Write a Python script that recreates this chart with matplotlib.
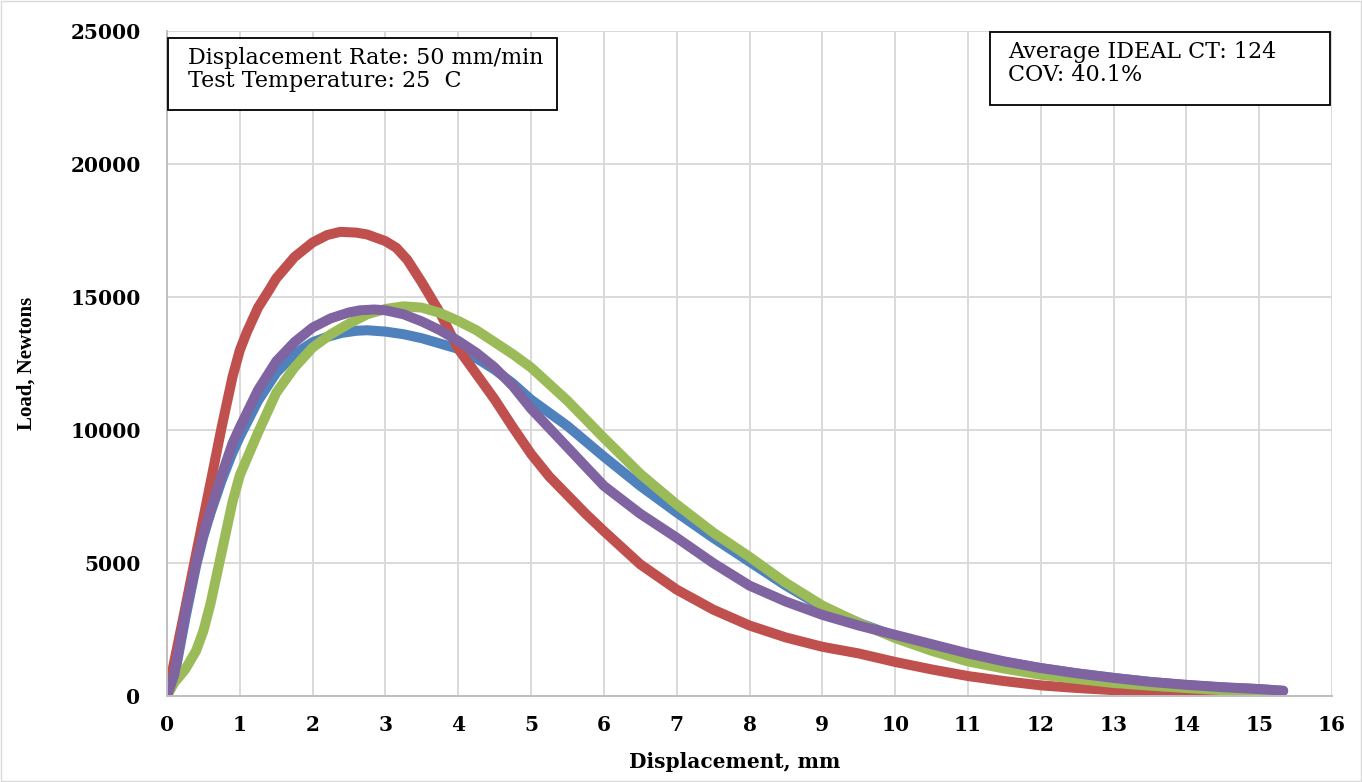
import matplotlib
matplotlib.use("Agg")
import matplotlib.pyplot as plt
from matplotlib.patches import Rectangle

# displacement (mm) / load (N)
blue_x = [0, 0.1, 0.25, 0.4, 0.5, 0.6, 0.75, 0.9, 1, 1.25, 1.5, 1.75, 2, 2.2, 2.4, 2.6, 2.75, 3,
          3.25, 3.5, 3.75, 4, 4.25, 4.5, 4.75, 5, 5.5, 6, 6.5, 7, 7.5, 8, 8.5, 9, 9.5, 10, 10.5,
          11, 11.5, 12, 12.5, 13, 13.5, 14, 14.5, 15, 15.33]
blue_y = [0, 700, 2900, 4900, 6000, 6900, 8100, 9150, 9750, 11100, 12150, 12850, 13300, 13500,
          13650, 13730, 13750, 13700, 13600, 13450, 13250, 13050, 12700, 12270, 11750, 11140,
          10150, 9000, 7900, 6900, 5950, 5050, 4150, 3350, 2750, 2250, 1850, 1540, 1280, 1050,
          850, 680, 530, 410, 320, 260, 190]

red_x = [0, 0.1, 0.25, 0.4, 0.5, 0.6, 0.75, 0.9, 1, 1.1, 1.25, 1.4, 1.5, 1.75, 2, 2.2, 2.38,
         2.6, 2.75, 3, 3.15, 3.3, 3.5, 3.75, 4, 4.25, 4.5, 4.75, 5, 5.25, 5.5, 5.75, 6, 6.5, 7,
         7.5, 8, 8.5, 9, 9.5, 10, 10.5, 11, 11.5, 12, 12.5, 13, 13.5, 14, 14.5, 15, 15.3]
red_y = [0, 1300, 3300, 5350, 6700, 8050, 10100, 12000, 13000, 13700, 14600, 15250, 15700,
         16500, 17050, 17330, 17450, 17420, 17350, 17100, 16850, 16400, 15550, 14400, 13050,
         12100, 11150, 10100, 9100, 8250, 7550, 6850, 6200, 4950, 4000, 3250, 2650, 2200, 1850,
         1600, 1280, 1000, 750, 560, 400, 300, 220, 160, 110, 70, 40, 20]

green_x = [0, 0.1, 0.25, 0.4, 0.5, 0.6, 0.75, 0.9, 1, 1.25, 1.5, 1.75, 2, 2.25, 2.5, 2.75, 3,
           3.25, 3.5, 3.75, 4, 4.25, 4.5, 4.75, 5, 5.5, 6, 6.5, 7, 7.5, 8, 8.5, 9, 9.5, 10, 10.5,
           11, 11.5, 12, 12.5, 13, 13.5, 14, 14.5, 15, 15.3]
green_y = [0, 500, 1000, 1700, 2450, 3500, 5400, 7300, 8300, 9900, 11400, 12350, 13100, 13600,
           14000, 14350, 14550, 14650, 14600, 14400, 14100, 13750, 13300, 12850, 12350, 11100,
           9700, 8350, 7200, 6150, 5230, 4250, 3400, 2750, 2180, 1700, 1300, 1030, 800, 640, 490,
           390, 300, 220, 150, 100]

purple_x = [0, 0.1, 0.25, 0.4, 0.5, 0.6, 0.75, 0.9, 1, 1.25, 1.5, 1.75, 2, 2.25, 2.5, 2.65,
            2.85, 3, 3.25, 3.5, 3.75, 4, 4.25, 4.5, 4.75, 5, 5.5, 6, 6.5, 7, 7.5, 8, 8.5, 9, 9.5,
            10, 10.5, 11, 11.5, 12, 12.5, 13, 13.5, 14, 14.5, 15, 15.33]
purple_y = [0, 800, 3100, 5000, 6100, 7000, 8300, 9500, 10100, 11500, 12580, 13300, 13850,
            14200, 14420, 14500, 14530, 14500, 14350, 14080, 13750, 13350, 12900, 12350, 11650,
            10800, 9350, 7900, 6850, 5950, 5000, 4150, 3550, 3050, 2650, 2300, 1950, 1600, 1300,
            1050, 850, 680, 530, 420, 330, 260, 200]

x_ticks = list(range(0, 17))
y_ticks = [0, 5000, 10000, 15000, 20000, 25000]

box1 = ["Displacement Rate: 50 mm/min", "Test Temperature: 25  C"]
box2 = ["Average IDEAL CT: 124", "COV: 40.1%"]

fig = plt.figure(figsize=(13.62, 7.82), dpi=100)
ax = fig.add_axes([167 / 1362, 1 - 696 / 782, 1165 / 1362, 665 / 782])

for xs, ys, c in [(blue_x, blue_y, "#4F81BD"), (red_x, red_y, "#C0504D"),
                  (green_x, green_y, "#9BBB59"), (purple_x, purple_y, "#8064A2")]:
    ax.plot(xs, ys, color=c, lw=7.2, solid_capstyle="round", solid_joinstyle="round")

ax.set_xlim(0, 16)
ax.set_ylim(0, 25000)
ax.set_xticks(x_ticks)
ax.set_yticks(y_ticks)
ax.grid(True, color="#D9D9D9", lw=1.4)
ax.set_axisbelow(True)
for s in ["top", "right"]:
    ax.spines[s].set_visible(False)
for s in ["left", "bottom"]:
    ax.spines[s].set_color("#BFBFBF")
    ax.spines[s].set_linewidth(1.4)
ax.tick_params(length=0, labelsize=14.5)
ax.tick_params(axis="y", pad=19)
ax.tick_params(axis="x", pad=14)
for lab in ax.get_xticklabels() + ax.get_yticklabels():
    lab.set_family("DejaVu Serif")
    lab.set_fontweight("bold")

fig.text(735 / 1362, 1 - 762 / 782, "Displacement, mm", ha="center", va="center",
         family="DejaVu Serif", fontweight="bold", fontsize=14.5)
fig.text(27 / 1362, 1 - 363 / 782, "Load, Newtons", ha="center", va="center", rotation=90,
         family="Liberation Serif", fontweight="bold", fontsize=15)

# annotation boxes (pixel positions of the reference)
def text_box(x0, y0, x1, y1, lines, tx):
    fig.add_artist(Rectangle((x0 / 1362, 1 - y1 / 782), (x1 - x0) / 1362, (y1 - y0) / 782,
                             transform=fig.transFigure, fill=True, facecolor="white",
                             edgecolor="black", lw=1.3))
    fig.text(tx / 1362, 1 - (y0 + 9) / 782, "\n".join(lines), ha="left", va="top",
             family="DejaVu Serif", fontsize=16, linespacing=1.08)

text_box(168, 38, 557, 110, box1, 188)
text_box(990, 32, 1330, 105, box2, 1008)

fig.add_artist(Rectangle((1 / 1362, 1 / 782), 1360 / 1362, 780 / 782, transform=fig.transFigure,
                         fill=False, edgecolor="#D9D9D9", lw=1))

fig.savefig("out.png", dpi=100)
